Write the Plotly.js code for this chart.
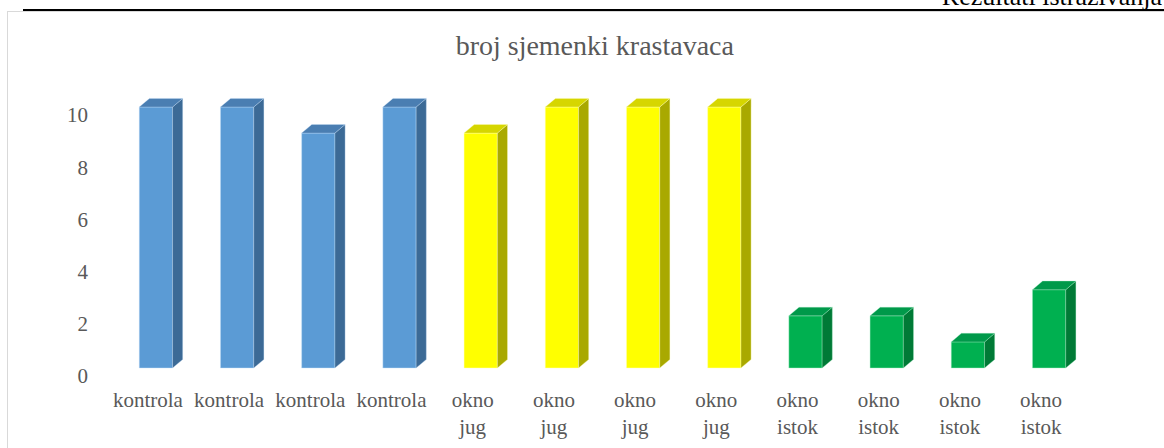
<!DOCTYPE html>
<html>
<head>
<meta charset="utf-8">
<script src="https://cdn.plot.ly/plotly-3.0.1.min.js"></script>
<style>
  html, body { margin:0; padding:0; background:#fff; overflow:hidden; }
  #wrap { position:relative; width:1164px; height:448px; overflow:hidden; }
  #chart { position:absolute; left:0; top:0; width:1164px; height:448px; }
  #frame { position:absolute; left:7px; top:11px; width:1300px; height:600px; border:1.5px solid #d9d9d9; box-sizing:border-box; }
  #rule { position:absolute; left:23px; top:9px; width:1141px; height:2px; background:#000; }
  #header { position:absolute; right:2px; top:-16px; font-family:"Liberation Serif", "Times New Roman", serif; font-size:26px; line-height:26px; color:#000; white-space:nowrap; }
</style>
</head>
<body>
<div id="wrap">
  <div id="frame"></div>
  <div id="chart"></div>
  <div id="rule"></div>
  <div id="header">Rezultati istraživanja</div>
</div>
<script>
// ---- data ----
const chartTitle = 'broj sjemenki krastavaca';
const categories = ['kontrola','kontrola','kontrola','kontrola',
                    'okno<br>jug','okno<br>jug','okno<br>jug','okno<br>jug',
                    'okno<br>istok','okno<br>istok','okno<br>istok','okno<br>istok'];
const values = [10, 10, 9, 10, 9, 10, 10, 10, 2, 2, 1, 3];
const yTicks = [0, 2, 4, 6, 8, 10];

// ---- styles ----
const palette = {
  'kontrola':    {front:'#5B9BD5', top:'#4A7EB2', side:'#3C6A96', edge:'rgba(200,225,250,0.55)'},
  'okno<br>jug': {front:'#FFFF00', top:'#D6D600', side:'#A9A900', edge:'rgba(255,255,190,0.6)'},
  'okno<br>istok':{front:'#00B050', top:'#00994A', side:'#007A36', edge:'rgba(170,240,200,0.55)'}
};
const font = '"Liberation Serif", "Times New Roman", serif';
const textGray = '#595959';
const barWidth = 0.41;          // category units
const depthX = 0.125;           // category units
const depthY = 0.33;            // value units

const pos = values.map((v, i) => i);
const hw = barWidth / 2;

const traces = [];
traces.push({
  type:'bar', x:pos, y:values, width:barWidth,
  marker:{color:pos.map(i => palette[categories[i]].front),
          line:{width:0.8, color:pos.map(i => palette[categories[i]].edge)}},
  hoverinfo:'skip', showlegend:false
});
pos.forEach(i => {
  const v = values[i], p = palette[categories[i]];
  // side face
  traces.push({
    type:'scatter', mode:'lines', fill:'toself', fillcolor:p.side,
    x:[i+hw, i+hw+depthX, i+hw+depthX, i+hw, i+hw],
    y:[0, depthY, v+depthY, v, 0],
    line:{width:0.6, color:p.edge}, hoverinfo:'skip', showlegend:false
  });
  // top face
  traces.push({
    type:'scatter', mode:'lines', fill:'toself', fillcolor:p.top,
    x:[i-hw, i-hw+depthX, i+hw+depthX, i+hw, i-hw],
    y:[v, v+depthY, v+depthY, v, v],
    line:{width:0.6, color:p.edge}, hoverinfo:'skip', showlegend:false
  });
});

const pxPerUnit = 26.1;
const plotTop = 80, plotBottom = 385, zeroPx = 368;
const yr0 = -(plotBottom - zeroPx) / pxPerUnit;
const yr1 = (zeroPx - plotTop) / pxPerUnit;

const layout = {
  width:1164, height:448,
  margin:{l:95, r:54, t:plotTop, b:448-plotBottom, pad:0},
  paper_bgcolor:'rgba(0,0,0,0)', plot_bgcolor:'rgba(0,0,0,0)',
  title:{text:chartTitle, font:{family:font, size:28, color:textGray},
         xref:'container', x:0.511, y:0.898, yanchor:'middle', xanchor:'center'},
  xaxis:{range:[-0.75, 11.75], tickmode:'array', tickvals:pos, ticktext:categories,
         showgrid:false, zeroline:false, showline:false, ticks:'',
         tickfont:{family:font, size:21, color:textGray},
         ticklabelshift:-8, ticklabelstandoff:0, fixedrange:true},
  yaxis:{range:[yr0, yr1], tickmode:'array', tickvals:yTicks,
         showgrid:false, zeroline:false, showline:false, ticks:'',
         tickfont:{family:font, size:21, color:textGray},
         ticklabelshift:8, ticklabelstandoff:6, fixedrange:true},
  bargap:0
};

Plotly.newPlot('chart', traces, layout, {displayModeBar:false, staticPlot:true});
</script>
</body>
</html>
